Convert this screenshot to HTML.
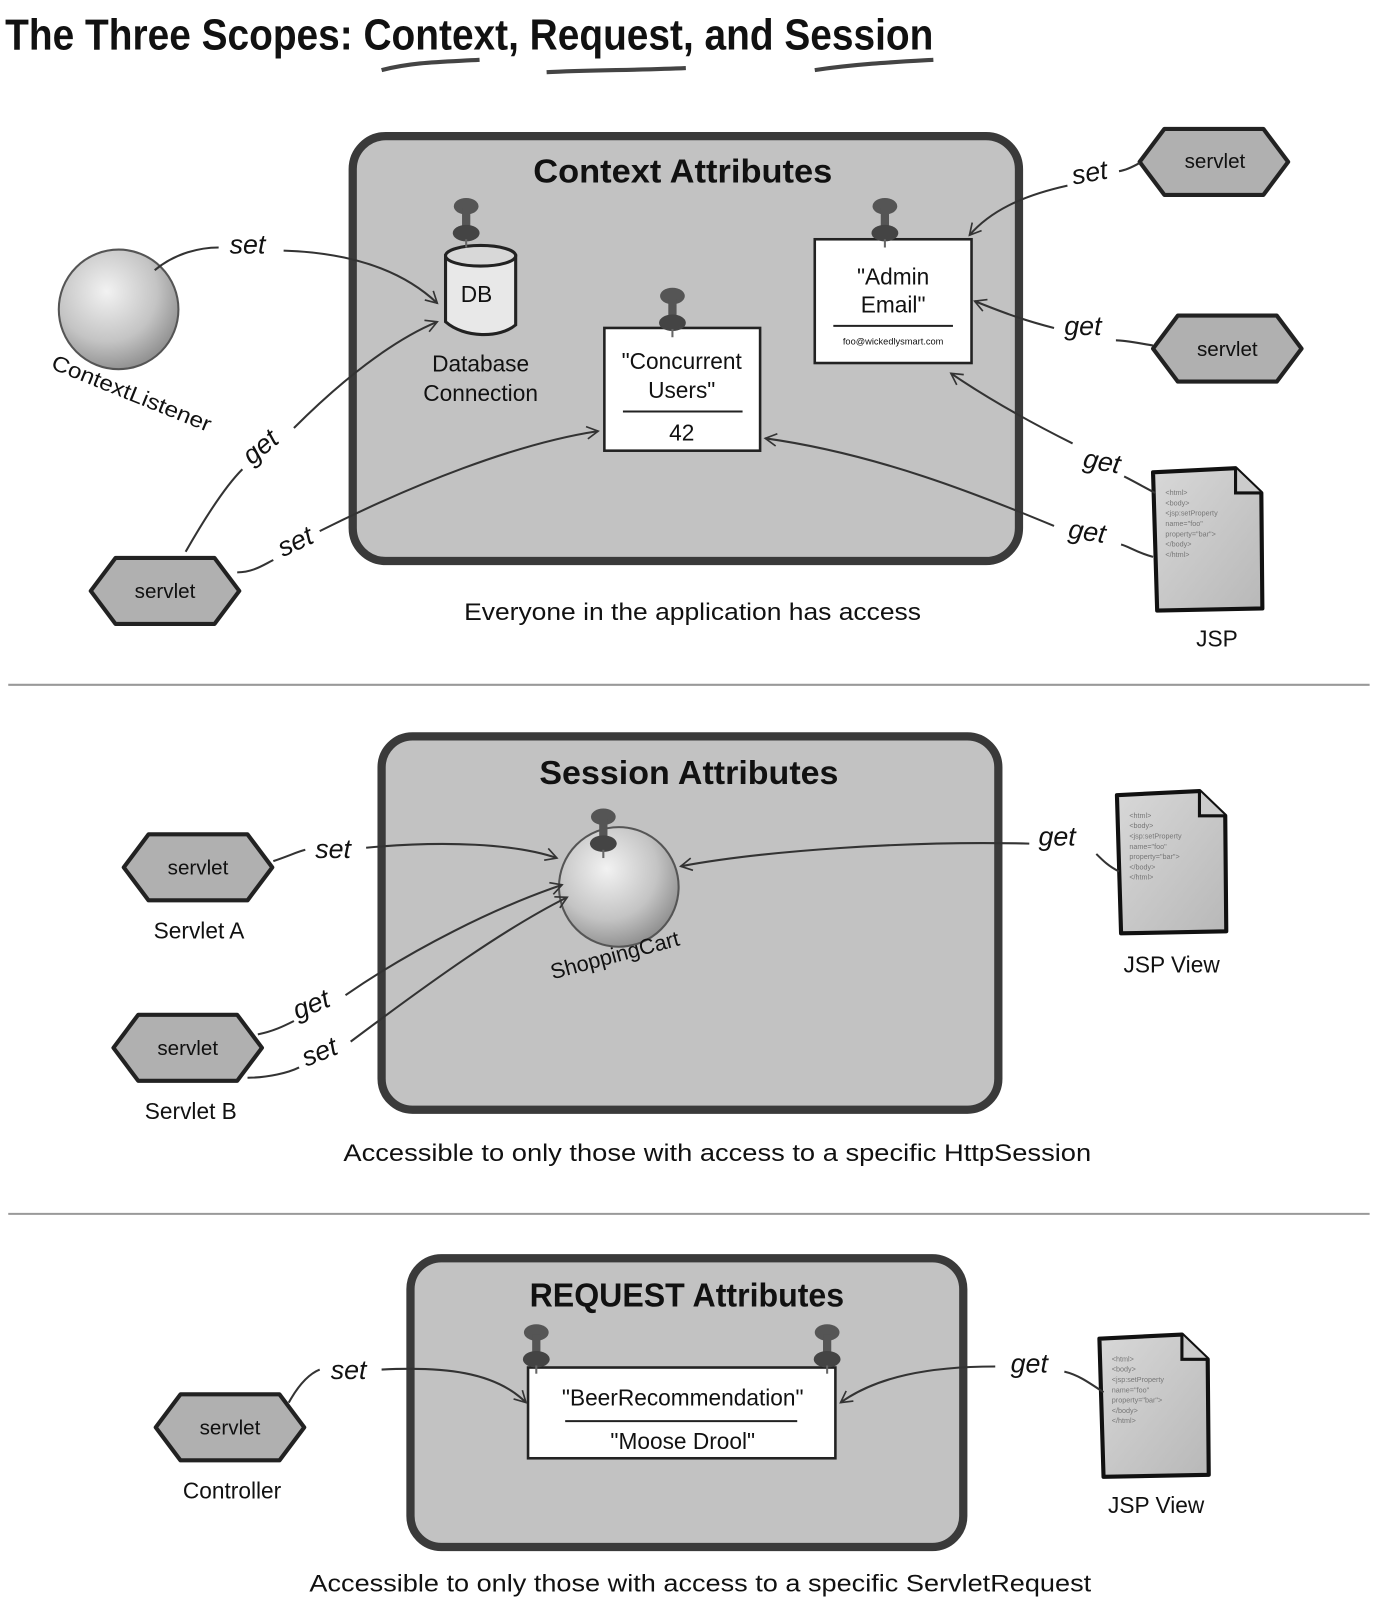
<!DOCTYPE html>
<html><head><meta charset="utf-8"><style>
html,body{margin:0;padding:0;background:#fff;}
svg{display:block;}
text{font-family:"Liberation Sans",sans-serif;fill:#111;}
</style></head><body>
<svg width="1382" height="1614" viewBox="0 0 1340 1565" preserveAspectRatio="none" xmlns="http://www.w3.org/2000/svg">
<defs>
<marker id="ah" markerWidth="14" markerHeight="14" refX="12" refY="7" orient="auto" markerUnits="userSpaceOnUse">
<path d="M1,1 L12,7 L1,13" fill="none" stroke="#333" stroke-width="1.6"/>
</marker>
<radialGradient id="ball" cx="40%" cy="35%" r="70%">
<stop offset="0" stop-color="#f2f2f2"/><stop offset="0.6" stop-color="#c4c4c4"/><stop offset="1" stop-color="#8a8a8a"/>
</radialGradient>
<linearGradient id="doc" x1="0" y1="0" x2="1" y2="1">
<stop offset="0" stop-color="#d8d8d8"/><stop offset="1" stop-color="#b8b8b8"/>
</linearGradient>
<g id="hex"><polygon points="-72,0 -48,-32 48,-32 72,0 48,32 -48,32" fill="#b0b0b0" stroke="#222" stroke-width="4" stroke-linejoin="round"/></g>
<g id="pin">
<ellipse cx="0" cy="-38" rx="12" ry="8" fill="#555"/>
<rect x="-4" y="-36" width="8" height="22" fill="#555"/>
<ellipse cx="0" cy="-12" rx="13" ry="8" fill="#444"/>
<line x1="0" y1="-6" x2="0" y2="2" stroke="#666" stroke-width="2"/>
</g>
<g id="jsp">
<path d="M0,8 L80,4 L105,28 L106,140 L4,142 Z" fill="url(#doc)" stroke="#111" stroke-width="4" stroke-linejoin="round"/>
<path d="M80,4 L80,28 L105,28" fill="#ccc" stroke="#111" stroke-width="3"/>
<g font-size="7" font-family="Liberation Mono,monospace">
<text x="12" y="30" style="fill:#777">&lt;html&gt;</text>
<text x="12" y="40" style="fill:#777">&lt;body&gt;</text>
<text x="12" y="50" style="fill:#777">&lt;jsp:setProperty</text>
<text x="12" y="60" style="fill:#777">name="foo"</text>
<text x="12" y="70" style="fill:#777">property="bar"&gt;</text>
<text x="12" y="80" style="fill:#777">&lt;/body&gt;</text>
<text x="12" y="90" style="fill:#777">&lt;/html&gt;</text>
</g>
</g>
</defs>

<!-- Title -->
<text x="5" y="48" font-size="42" font-weight="bold" textLength="900" lengthAdjust="spacingAndGlyphs">The Three Scopes: Context, Request, and Session</text>
<path d="M370,68 C400,60 430,60 465,58" stroke="#444" stroke-width="4" fill="none"/>
<path d="M530,70 C570,68 620,68 665,66" stroke="#444" stroke-width="4" fill="none"/>
<path d="M790,68 C830,62 870,60 905,58" stroke="#444" stroke-width="4" fill="none"/>

<!-- ===== Context ===== -->
<rect x="342" y="132" width="646" height="412" rx="32" fill="#c2c2c2" stroke="#3a3a3a" stroke-width="8"/>
<text x="662" y="177" font-size="32" font-weight="bold" text-anchor="middle" textLength="290" lengthAdjust="spacingAndGlyphs">Context Attributes</text>

<path d="M432,248 L432,312 C450,328 485,328 500,315 L500,248 Z" fill="#e8e8e8" stroke="#222" stroke-width="3"/>
<ellipse cx="466" cy="248" rx="34" ry="10" fill="#d8d8d8" stroke="#222" stroke-width="3"/>
<use href="#pin" x="452" y="238"/>
<text x="462" y="293" font-size="22" text-anchor="middle">DB</text>
<text x="466" y="360" font-size="22" text-anchor="middle">Database</text>
<text x="466" y="389" font-size="22" text-anchor="middle">Connection</text>

<rect x="586" y="318" width="151" height="119" fill="#fff" stroke="#222" stroke-width="2.5"/>
<use href="#pin" x="652" y="325"/>
<text x="661" y="358" font-size="22" text-anchor="middle">"Concurrent</text>
<text x="661" y="386" font-size="22" text-anchor="middle">Users"</text>
<line x1="604" y1="399" x2="720" y2="399" stroke="#222" stroke-width="2"/>
<text x="661" y="427" font-size="22" text-anchor="middle">42</text>

<rect x="790" y="232" width="152" height="120" fill="#fff" stroke="#222" stroke-width="2.5"/>
<use href="#pin" x="858" y="238"/>
<text x="866" y="276" font-size="22" text-anchor="middle">"Admin</text>
<text x="866" y="303" font-size="22" text-anchor="middle">Email"</text>
<line x1="808" y1="316" x2="924" y2="316" stroke="#222" stroke-width="2"/>
<text x="866" y="334" font-size="9" text-anchor="middle">foo@wickedlysmart.com</text>

<circle cx="115" cy="300" r="58" fill="url(#ball)" stroke="#555" stroke-width="2"/>
<text x="125" y="388" font-size="21" text-anchor="middle" transform="rotate(22 125 388)" textLength="165" lengthAdjust="spacingAndGlyphs">ContextListener</text>

<use href="#hex" x="1177" y="157"/><text x="1178" y="163" font-size="20" text-anchor="middle">servlet</text>
<use href="#hex" x="1190" y="338"/><text x="1190" y="345" font-size="20" text-anchor="middle">servlet</text>
<use href="#hex" x="160" y="573"/><text x="160" y="580" font-size="20" text-anchor="middle">servlet</text>
<use href="#jsp" x="1118" y="450"/>
<text x="1180" y="627" font-size="22" text-anchor="middle">JSP</text>
<text x="450" y="601" font-size="23" textLength="443" lengthAdjust="spacingAndGlyphs">Everyone in the application has access</text>

<g fill="none" stroke="#333" stroke-width="2">
<path d="M150,262 C170,245 195,240 212,240"/>
<path d="M275,243 C340,245 390,262 424,294" marker-end="url(#ah)"/>
<path d="M180,535 C200,500 220,470 235,455"/>
<path d="M285,415 C330,370 380,330 424,312" marker-end="url(#ah)"/>
<path d="M230,555 C245,555 255,548 265,543"/>
<path d="M310,515 C400,470 500,430 580,418" marker-end="url(#ah)"/>
<path d="M1105,158 C1098,162 1092,165 1085,166"/>
<path d="M1035,180 C990,190 960,205 940,228" marker-end="url(#ah)"/>
<path d="M1118,335 C1100,332 1090,330 1082,330"/>
<path d="M1022,318 C990,310 965,300 945,292" marker-end="url(#ah)"/>
<path d="M1120,478 C1105,470 1098,466 1090,462"/>
<path d="M1040,430 C1000,410 960,388 922,362" marker-end="url(#ah)"/>
<path d="M1118,540 C1100,535 1095,530 1087,528"/>
<path d="M1022,510 C950,480 850,440 742,425" marker-end="url(#ah)"/>
</g>
<g font-size="26" font-style="italic">
<text x="240" y="246" text-anchor="middle">set</text>
<text x="258" y="440" text-anchor="middle" transform="rotate(-40 258 440)">get</text>
<text x="290" y="533" text-anchor="middle" transform="rotate(-25 290 533)">set</text>
<text x="1058" y="176" text-anchor="middle" transform="rotate(-10 1058 176)">set</text>
<text x="1050" y="325" text-anchor="middle">get</text>
<text x="1067" y="456" text-anchor="middle" transform="rotate(10 1067 456)">get</text>
<text x="1053" y="524" text-anchor="middle" transform="rotate(8 1053 524)">get</text>
</g>

<line x1="8" y1="664" x2="1328" y2="664" stroke="#999" stroke-width="2"/>

<!-- ===== Session ===== -->
<rect x="370" y="714" width="598" height="362" rx="30" fill="#c2c2c2" stroke="#3a3a3a" stroke-width="8"/>
<text x="668" y="760" font-size="32" font-weight="bold" text-anchor="middle" textLength="290" lengthAdjust="spacingAndGlyphs">Session Attributes</text>
<circle cx="600" cy="860" r="58" fill="url(#ball)" stroke="#555" stroke-width="2"/>
<use href="#pin" x="585" y="830"/>
<text x="598" y="933" font-size="21" text-anchor="middle" transform="rotate(-15 598 933)">ShoppingCart</text>

<use href="#hex" x="192" y="841"/><text x="192" y="848" font-size="20" text-anchor="middle">servlet</text>
<text x="193" y="910" font-size="22" text-anchor="middle">Servlet A</text>
<use href="#hex" x="182" y="1016"/><text x="182" y="1023" font-size="20" text-anchor="middle">servlet</text>
<text x="185" y="1085" font-size="22" text-anchor="middle">Servlet B</text>
<use href="#jsp" x="1083" y="763"/>
<text x="1136" y="943" font-size="22" text-anchor="middle">JSP View</text>
<text x="333" y="1126" font-size="23" textLength="725" lengthAdjust="spacingAndGlyphs">Accessible to only those with access to a specific HttpSession</text>

<g fill="none" stroke="#333" stroke-width="2">
<path d="M265,835 C280,830 288,826 296,824"/>
<path d="M355,822 C430,815 500,818 540,832" marker-end="url(#ah)"/>
<path d="M250,1003 C265,1000 275,995 285,990"/>
<path d="M335,965 C400,920 480,880 545,858" marker-end="url(#ah)"/>
<path d="M240,1045 C260,1045 280,1040 290,1035"/>
<path d="M340,1010 C420,950 490,900 550,870" marker-end="url(#ah)"/>
<path d="M1085,845 C1075,840 1070,835 1063,828"/>
<path d="M998,818 C880,815 740,825 660,840" marker-end="url(#ah)"/>
</g>
<g font-size="26" font-style="italic">
<text x="323" y="832" text-anchor="middle">set</text>
<text x="305" y="982" text-anchor="middle" transform="rotate(-22 305 982)">get</text>
<text x="313" y="1028" text-anchor="middle" transform="rotate(-22 313 1028)">set</text>
<text x="1025" y="820" text-anchor="middle">get</text>
</g>

<line x1="8" y1="1177" x2="1328" y2="1177" stroke="#999" stroke-width="2"/>

<!-- ===== Request ===== -->
<rect x="398" y="1220" width="536" height="280" rx="30" fill="#c2c2c2" stroke="#3a3a3a" stroke-width="8"/>
<text x="666" y="1267" font-size="32" font-weight="bold" text-anchor="middle" textLength="305" lengthAdjust="spacingAndGlyphs">REQUEST Attributes</text>
<rect x="512" y="1326" width="298" height="88" fill="#fff" stroke="#222" stroke-width="2.5"/>
<use href="#pin" x="520" y="1330"/>
<use href="#pin" x="802" y="1330"/>
<text x="662" y="1363" font-size="22" text-anchor="middle">"BeerRecommendation"</text>
<line x1="548" y1="1378" x2="773" y2="1378" stroke="#222" stroke-width="2"/>
<text x="662" y="1405" font-size="22" text-anchor="middle">"Moose Drool"</text>

<use href="#hex" x="223" y="1384"/><text x="223" y="1391" font-size="20" text-anchor="middle">servlet</text>
<text x="225" y="1453" font-size="22" text-anchor="middle">Controller</text>
<use href="#jsp" x="1066" y="1290"/>
<text x="1121" y="1467" font-size="22" text-anchor="middle">JSP View</text>
<text x="300" y="1543" font-size="23" textLength="758" lengthAdjust="spacingAndGlyphs">Accessible to only those with access to a specific ServletRequest</text>

<g fill="none" stroke="#333" stroke-width="2">
<path d="M280,1360 C290,1342 300,1332 310,1328"/>
<path d="M370,1328 C430,1325 480,1330 510,1360" marker-end="url(#ah)"/>
<path d="M1070,1350 C1055,1340 1045,1333 1032,1330"/>
<path d="M965,1325 C900,1325 850,1335 815,1360" marker-end="url(#ah)"/>
</g>
<g font-size="26" font-style="italic">
<text x="338" y="1337" text-anchor="middle">set</text>
<text x="998" y="1331" text-anchor="middle">get</text>
</g>
</svg>
</body></html>
